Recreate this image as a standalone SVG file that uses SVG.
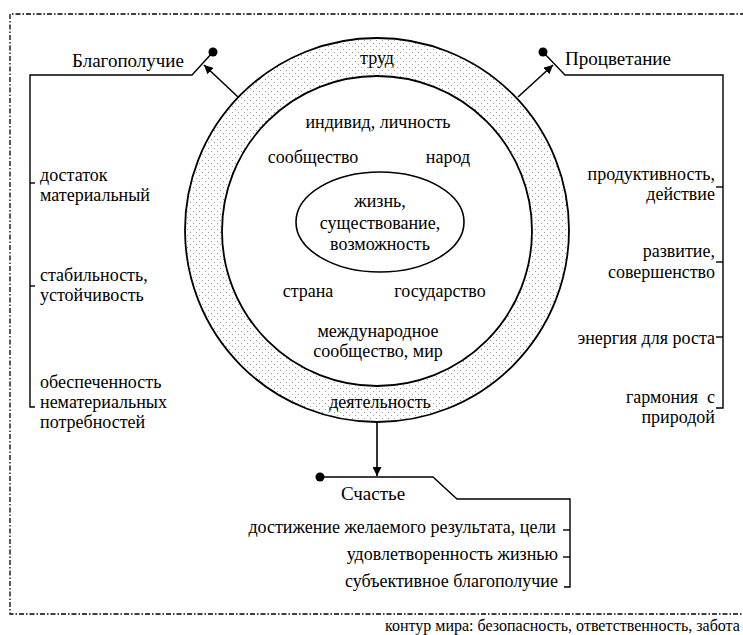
<svg xmlns="http://www.w3.org/2000/svg" width="743" height="635" viewBox="0 0 743 635">
<defs>
<pattern id="dots" width="6" height="6" patternUnits="userSpaceOnUse">
<rect x="0" y="0" width="6" height="6" fill="#fff"/>
<rect x="1" y="1" width="1" height="1" fill="#9a9a9a"/>
<rect x="4" y="4" width="1" height="1" fill="#9a9a9a"/>
</pattern>
<marker id="ah" viewBox="0 0 10 10" refX="10" refY="5" markerWidth="9" markerHeight="9" markerUnits="userSpaceOnUse" orient="auto">
<path d="M0,0 L10,5 L0,10 z" fill="#000"/>
</marker>
</defs>
<rect width="743" height="635" fill="#fff"/>
<path d="M745,14 H10 V614 H745" fill="none" stroke="#000" stroke-width="1.3" stroke-dasharray="5 2 1.5 2"/>
<g id="circles">
<circle cx="377" cy="230" r="192" fill="url(#dots)" stroke="#000" stroke-width="1.8"/>
<circle cx="377" cy="231" r="155" fill="#fff" stroke="#000" stroke-width="1.8"/>
<text x="377" y="64" font-family="Liberation Serif" font-size="18" text-anchor="middle">труд</text>
<text x="380" y="408" font-family="Liberation Serif" font-size="18" text-anchor="middle">деятельность</text>
</g>
<g id="inner">
<text x="378" y="128" font-family="Liberation Serif" font-size="18" text-anchor="middle">индивид, личность</text>
<text x="313" y="163" font-family="Liberation Serif" font-size="18" text-anchor="middle">сообщество</text>
<text x="448" y="163" font-family="Liberation Serif" font-size="18" text-anchor="middle">народ</text>
<text x="308" y="297" font-family="Liberation Serif" font-size="18" text-anchor="middle">страна</text>
<text x="440" y="297" font-family="Liberation Serif" font-size="18" text-anchor="middle">государство</text>
<text x="378" y="337" font-family="Liberation Serif" font-size="18" text-anchor="middle">международное</text>
<text x="378" y="357" font-family="Liberation Serif" font-size="18" text-anchor="middle">сообщество, мир</text>
</g>
<g id="core">
<ellipse cx="380" cy="222" rx="84" ry="50" fill="#fff" stroke="#000" stroke-width="1.6"/>
<text x="380" y="207" font-family="Liberation Serif" font-size="18" text-anchor="middle">жизнь,</text>
<text x="380" y="229" font-family="Liberation Serif" font-size="18" text-anchor="middle">существование,</text>
<text x="380" y="250" font-family="Liberation Serif" font-size="18" text-anchor="middle">возможность</text>
</g>
<g id="connectors" fill="none" stroke="#000" stroke-width="1.6">
<line x1="238" y1="97" x2="204" y2="65" marker-end="url(#ah)"/>
<line x1="518" y1="97" x2="553" y2="65" marker-end="url(#ah)"/>
<line x1="377" y1="422" x2="377" y2="476" marker-end="url(#ah)"/>
</g>
<g id="blagopoluchie">
<circle cx="213" cy="52" r="4.5" fill="#000"/>
<g fill="none" stroke="#000" stroke-width="1.4">
<polyline points="213,52 192,75 30,75 30,407 35,407"/>
<line x1="30" y1="183" x2="35" y2="183"/>
<line x1="30" y1="286" x2="35" y2="286"/>
</g>
<text x="72" y="67" font-family="Liberation Serif" font-size="19">Благополучие</text>
<text x="40" y="181" font-family="Liberation Serif" font-size="18">достаток</text>
<text x="40" y="201" font-family="Liberation Serif" font-size="18">материальный</text>
<text x="40" y="281" font-family="Liberation Serif" font-size="18">стабильность,</text>
<text x="40" y="301" font-family="Liberation Serif" font-size="18">устойчивость</text>
<text x="40" y="388" font-family="Liberation Serif" font-size="18">обеспеченность</text>
<text x="40" y="408" font-family="Liberation Serif" font-size="18">нематериальных</text>
<text x="40" y="428" font-family="Liberation Serif" font-size="18">потребностей</text>
</g>
<g id="protsvetanie">
<circle cx="543" cy="52" r="4.5" fill="#000"/>
<g fill="none" stroke="#000" stroke-width="1.4">
<polyline points="543,52 565,75 723,75 723,408 716,408"/>
<line x1="716" y1="187" x2="723" y2="187"/>
<line x1="716" y1="262" x2="723" y2="262"/>
<line x1="716" y1="337" x2="723" y2="337"/>
</g>
<text x="565" y="65" font-family="Liberation Serif" font-size="19">Процветание</text>
<text x="715" y="180" font-family="Liberation Serif" font-size="18" text-anchor="end">продуктивность,</text>
<text x="715" y="200" font-family="Liberation Serif" font-size="18" text-anchor="end">действие</text>
<text x="715" y="257" font-family="Liberation Serif" font-size="18" text-anchor="end">развитие,</text>
<text x="715" y="278" font-family="Liberation Serif" font-size="18" text-anchor="end">совершенство</text>
<text x="715" y="344" font-family="Liberation Serif" font-size="18" text-anchor="end">энергия для роста</text>
<text x="715" y="403" font-family="Liberation Serif" font-size="18" text-anchor="end" xml:space="preserve">гармония  с</text>
<text x="715" y="423" font-family="Liberation Serif" font-size="18" text-anchor="end">природой</text>
</g>
<g id="schastie">
<circle cx="320" cy="477" r="4.5" fill="#000"/>
<g fill="none" stroke="#000" stroke-width="1.4">
<polyline points="320,477 433,477 457,499 570,499 570,587 564,587"/>
<line x1="563" y1="530" x2="570" y2="530"/>
<line x1="563" y1="557" x2="570" y2="557"/>
</g>
<text x="373" y="500" font-family="Liberation Serif" font-size="19" text-anchor="middle">Счастье</text>
<text x="556" y="533" font-family="Liberation Serif" font-size="18" text-anchor="end">достижение желаемого результата, цели</text>
<text x="558" y="560" font-family="Liberation Serif" font-size="18" text-anchor="end">удовлетворенность жизнью</text>
<text x="558" y="587" font-family="Liberation Serif" font-size="18" text-anchor="end">субъективное благополучие</text>
</g>
<text x="385" y="631" font-family="Liberation Serif" font-size="16">контур мира: безопасность, ответственность, забота</text>
</svg>
